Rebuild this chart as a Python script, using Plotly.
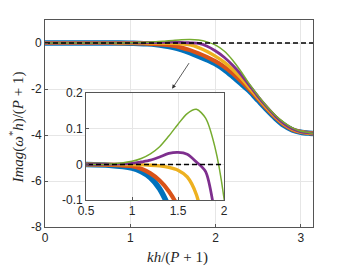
import numpy as np
import plotly.graph_objects as go

PI = float(np.pi)
x = [0.0, 0.25, 0.5, 0.75, 1.0, 1.1, 1.2, 1.3, 1.4, 1.5, 1.6, 1.7, 1.8, 1.9, 2.0,
     2.1, 2.2, 2.3, 2.4, 2.5, 2.6, 2.7, 2.8, 2.9, 3.0, 3.1, PI]

blue = [0, 0, 0, -0.002, -0.01, -0.02, -0.037, -0.068, -0.12, -0.19, -0.29, -0.42, -0.57, -0.73, -0.91,
        -1.15, -1.45, -1.77, -2.1, -2.5, -2.9, -3.27, -3.58, -3.78, -3.88, -3.92, -3.93]
orange = [0, 0, 0, -0.001, -0.005, -0.012, -0.025, -0.045, -0.075, -0.12, -0.2, -0.31, -0.45, -0.61, -0.8,
          -1.03, -1.32, -1.66, -2.03, -2.44, -2.85, -3.23, -3.55, -3.76, -3.87, -3.92, -3.93]
yellow = [0, 0, 0, 0, 0, -0.001, -0.002, -0.004, -0.008, -0.016, -0.035, -0.085, -0.2, -0.37, -0.58,
          -0.83, -1.15, -1.53, -1.96, -2.4, -2.82, -3.21, -3.53, -3.75, -3.87, -3.92, -3.93]
purple = [0, 0, 0, 0.0005, 0.003, 0.007, 0.012, 0.021, 0.031, 0.034, 0.029, 0.007, -0.02, -0.14, -0.35,
          -0.62, -0.97, -1.38, -1.86, -2.34, -2.78, -3.18, -3.5, -3.73, -3.86, -3.91, -3.93]
green = [0, 0, 0, 0.001, 0.009, 0.017, 0.03, 0.05, 0.08, 0.113, 0.143, 0.155, 0.13, 0.05, -0.095,
         -0.35, -0.75, -1.25, -1.8, -2.3, -2.75, -3.14, -3.45, -3.69, -3.84, -3.9, -3.93]

series = [
    ("blue", blue, "#0072BD", 5.5),
    ("orange", orange, "#D95319", 4.2),
    ("yellow", yellow, "#EDB120", 3.4),
    ("purple", purple, "#7E2F8E", 2.8),
    ("green", green, "#77AC30", 1.5),
]

zero_x = [0, PI]
zero_y = [0, 0]

main_yticks = [-8, -6, -4, -2, 0]
main_ytext = ["-8", "-6", "-4", "-2", "0"]
main_xticks = [0, 1, 2, 3]
inset_xticks = [0.5, 1, 1.5, 2]
inset_xtext = ["0.5", "1", "1.5", "2"]
inset_yticks = [-0.1, 0, 0.1, 0.2]
inset_ytext = ["-0.1", "0", "0.1", "0.2"]

xlabel = "<i>kh</i>/(<i>P</i> + 1)"
ylabel = "<i>Imag</i>(<i>ω</i><sup>*</sup><i>h</i>)/(<i>P</i> + 1)"

fig = go.Figure()
for xa, ya in [("x", "y"), ("x2", "y2")]:
    for name, vals, col, w in series:
        fig.add_trace(go.Scatter(x=x, y=vals, mode="lines", name=name,
                                 line=dict(color=col, width=w, shape="spline", smoothing=0.8),
                                 xaxis=xa, yaxis=ya, showlegend=False))
    fig.add_trace(go.Scatter(x=zero_x, y=zero_y, mode="lines",
                             line=dict(color="black", width=1.6, dash="5px,3px"),
                             xaxis=xa, yaxis=ya, showlegend=False))

axis_common = dict(showline=True, linecolor="#555555", linewidth=0.8, mirror=True,
                   ticks="inside", ticklen=3, tickcolor="#555555", automargin=False,
                   showgrid=True, gridcolor="#e6e6e6", gridwidth=0.8, zeroline=False,
                   tickfont=dict(family="Liberation Sans, Arial", size=12, color="#262626"))

fig.update_layout(
    width=345, height=267,
    margin=dict(l=45, r=32, t=20, b=40),
    paper_bgcolor="white", plot_bgcolor="white",
    xaxis=dict(domain=[0, 1], range=[0, PI], tickvals=main_xticks, anchor="y", **axis_common),
    yaxis=dict(domain=[0, 1], range=[-8, 1], tickvals=main_yticks, ticktext=main_ytext, anchor="x",
               **axis_common),
    xaxis2=dict(domain=[0.153, 0.668], range=[0.5, 2], tickvals=inset_xticks, ticktext=inset_xtext,
                anchor="y2", **axis_common),
    yaxis2=dict(domain=[0.130, 0.646], range=[-0.1, 0.2], tickvals=inset_yticks, ticktext=inset_ytext,
                anchor="x2", **axis_common),
)

# white background for the inset
fig.add_shape(type="rect", xref="x2 domain", yref="y2 domain", x0=0, x1=1, y0=0, y1=1,
              fillcolor="white", line=dict(width=0), layer="below")

fig.add_annotation(x=1.49, y=-1.99, ax=1.70, ay=-0.81, xref="x", yref="y", axref="x", ayref="y",
                   showarrow=True, arrowhead=2, arrowsize=1, arrowwidth=0.8, arrowcolor="#333333", text="")

title_font = dict(family="Liberation Serif, DejaVu Serif", size=15, color="#262626")
fig.add_annotation(text=xlabel, xref="paper", yref="paper", x=0.495, y=-0.145,
                   xanchor="center", yanchor="middle", showarrow=False, font=title_font)
fig.add_annotation(text=ylabel, xref="paper", yref="paper", x=-0.105, y=0.48,
                   xanchor="center", yanchor="middle", showarrow=False, textangle=-90, font=title_font)

fig.write_html("out.html", config={"displayModeBar": False},
               post_script="document.body.style.margin='0';document.body.style.padding='0';")
